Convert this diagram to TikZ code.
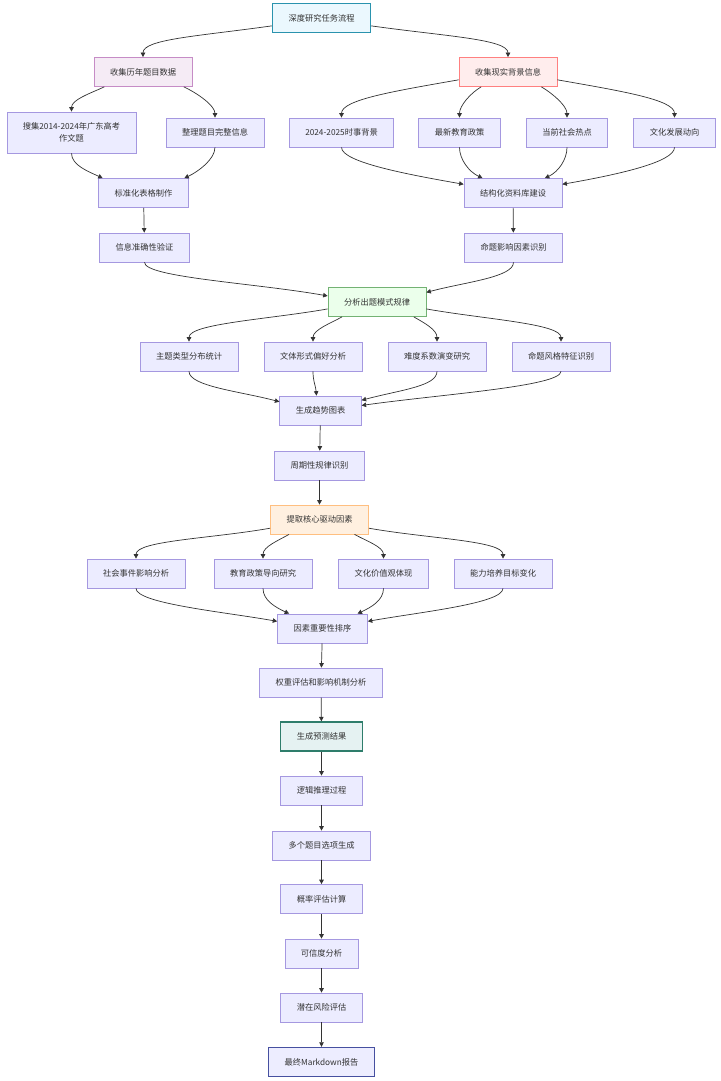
\documentclass[tikz,border=0pt]{standalone}
\usepackage{fontspec}
\newfontfamily\cjk{Noto Sans CJK SC}
\usetikzlibrary{arrows.meta}
\definecolor{boxfill}{HTML}{ECECFF}
\definecolor{boxline}{HTML}{A598E0}
\definecolor{txt}{HTML}{333333}
\definecolor{edgecol}{HTML}{333333}
\definecolor{startline}{HTML}{2A93AE}
\definecolor{reportline}{HTML}{4650A0}
\definecolor{resultline}{HTML}{2E7D6B}
\tikzset{
  stepbox/.style={draw=boxline, fill=boxfill, line width=0.7pt, minimum height=29pt, inner xsep=16pt, inner ysep=0pt, text=txt, font=\cjk\fontsize{8.25}{12}\selectfont, align=center},
  startbox/.style={stepbox, fill=cyan!8, draw=startline, line width=1.4pt},
  histbox/.style={stepbox, fill=violet!8, draw=violet!45},
  realbox/.style={stepbox, fill=red!7, draw=red!50},
  patternbox/.style={stepbox, fill=green!8, draw=green!45!black!55},
  corebox/.style={stepbox, fill=orange!12, draw=orange!50},
  resultbox/.style={stepbox, fill=teal!10, draw=resultline, line width=1.4pt},
  reportbox/.style={stepbox, fill=blue!7, draw=reportline, line width=1.4pt},
  flow/.style={draw=edgecol, line width=0.7pt, -{Triangle[length=4.5pt,width=4.5pt]}},
}
\begin{document}
\begin{tikzpicture}[x=1pt,y=1pt]
\useasboundingbox (0,0) rectangle (720,-1081);
% top
\node [startbox] (root) at (321.5,-18) {深度研究任务流程};
\node [histbox] (hist) at (143,-72) {收集历年题目数据};
\node [realbox] (real) at (508,-72) {收集现实背景信息};
% data collection
\node [stepbox, minimum height=41pt] (past) at (71.5,-132.5) {搜集2014-2024年广东高考\\作文题};
\node [stepbox] (tidy) at (215,-132.5) {整理题目完整信息};
\node [stepbox] (news) at (341.5,-132.5) {2024-2025时事背景};
\node [stepbox] (policy) at (459.5,-132.5) {最新教育政策};
\node [stepbox] (hot) at (567,-132.5) {当前社会热点};
\node [stepbox] (culture) at (674.5,-132.5) {文化发展动向};
\node [stepbox] (table) at (143.5,-193) {标准化表格制作};
\node [stepbox] (base) at (513,-193) {结构化资料库建设};
\node [stepbox] (check) at (144.5,-247.5) {信息准确性验证};
\node [stepbox] (factor) at (513.5,-247.5) {命题影响因素识别};
% patterns
\node [patternbox] (pattern) at (377,-302) {分析出题模式规律};
\node [stepbox] (topic) at (189,-356.5) {主题类型分布统计};
\node [stepbox] (genre) at (313,-356.5) {文体形式偏好分析};
\node [stepbox] (level) at (437,-356.5) {难度系数演变研究};
\node [stepbox] (style) at (561,-356.5) {命题风格特征识别};
\node [stepbox] (trend) at (320.5,-410.5) {生成趋势图表};
\node [stepbox] (cycle) at (319.5,-465.5) {周期性规律识别};
% drivers
\node [corebox] (core) at (319.5,-519.5) {提取核心驱动因素};
\node [stepbox] (event) at (136,-573.5) {社会事件影响分析};
\node [stepbox] (edu) at (263,-573.5) {教育政策导向研究};
\node [stepbox] (value) at (383.5,-573.5) {文化价值观体现};
\node [stepbox] (ability) at (503,-573.5) {能力培养目标变化};
\node [stepbox] (rank) at (322.5,-628.5) {因素重要性排序};
\node [stepbox] (weight) at (321,-682.5) {权重评估和影响机制分析};
% prediction
\node [resultbox] (result) at (321.5,-736.5) {生成预测结果};
\node [stepbox] (logic) at (321.5,-790.5) {逻辑推理过程};
\node [stepbox] (multi) at (321.5,-845.5) {多个题目选项生成};
\node [stepbox] (prob) at (321.5,-899) {概率评估计算};
\node [stepbox] (trust) at (321.5,-953.5) {可信度分析};
\node [stepbox] (risk) at (321.5,-1007.5) {潜在风险评估};
\node [reportbox] (report) at (321.5,-1062) {最终Markdown报告};
% edges
\draw [flow] (root.-171) to[out=188, in=90, out distance=75pt, in distance=18pt] (hist.north);
\draw [flow] (root.-9) to[out=-8, in=90, out distance=75pt, in distance=18pt] (real.north);
\draw [flow] (hist.-159) to[out=-155, in=90, out distance=15pt, in distance=12pt] (past.north);
\draw [flow] (hist.-20) to[out=-25, in=90, out distance=15pt, in distance=12pt] (tidy.north);
\draw [flow] (real.-171) to[out=190, in=90, out distance=65pt, in distance=18pt] (news.north);
\draw [flow] (real.-151) to[out=-150, in=90, out distance=12pt, in distance=12pt] (policy.north);
\draw [flow] (real.-24) to[out=-30, in=90, out distance=12pt, in distance=12pt] (hot.north);
\draw [flow] (real.-9) to[out=-10, in=90, out distance=65pt, in distance=18pt] (culture.north);
\draw [flow] (past.south) to[out=-90, in=155, out distance=12pt, in distance=15pt] (table.160);
\draw [flow] (tidy.south) to[out=-90, in=25, out distance=12pt, in distance=15pt] (table.20);
\draw [flow] (news.south) to[out=-90, in=170, out distance=15pt, in distance=55pt] (base.170);
\draw [flow] (policy.south) to[out=-90, in=155, out distance=12pt, in distance=15pt] (base.154);
\draw [flow] (hot.south) to[out=-90, in=25, out distance=12pt, in distance=15pt] (base.25);
\draw [flow] (culture.south) to[out=-90, in=10, out distance=15pt, in distance=55pt] (base.10);
\draw [flow] (table) -- (check);
\draw [flow] (base) -- (factor);
\draw [flow] (check.south) to[out=-90, in=170, out distance=15pt, in distance=75pt] (pattern.173);
\draw [flow] (factor.south) to[out=-90, in=15, out distance=15pt, in distance=40pt] (pattern.11);
\draw [flow] (pattern.-172) to[out=190, in=90, out distance=60pt, in distance=18pt] (topic.north);
\draw [flow] (pattern.-157) to[out=-150, in=90, out distance=12pt, in distance=12pt] (genre.north);
\draw [flow] (pattern.-22) to[out=-30, in=90, out distance=12pt, in distance=12pt] (level.north);
\draw [flow] (pattern.-8) to[out=-10, in=90, out distance=60pt, in distance=18pt] (style.north);
\draw [flow] (topic.south) to[out=-90, in=165, out distance=15pt, in distance=40pt] (trend.168);
\draw [flow] (genre.south) to[out=-90, in=95, out distance=10pt, in distance=10pt] (trend.105);
\draw [flow] (level.south) to[out=-90, in=15, out distance=15pt, in distance=40pt] (trend.14);
\draw [flow] (style.south) to[out=-90, in=8, out distance=15pt, in distance=80pt] (trend.7);
\draw [flow] (trend) -- (cycle);
\draw [flow] (cycle) -- (core);
\draw [flow] (core.-170) to[out=190, in=90, out distance=60pt, in distance=18pt] (event.north);
\draw [flow] (core.-154) to[out=-150, in=90, out distance=12pt, in distance=12pt] (edu.north);
\draw [flow] (core.-23) to[out=-30, in=90, out distance=12pt, in distance=12pt] (value.north);
\draw [flow] (core.-10) to[out=-10, in=90, out distance=60pt, in distance=18pt] (ability.north);
\draw [flow] (event.south) to[out=-90, in=170, out distance=15pt, in distance=55pt] (rank.171);
\draw [flow] (edu.south) to[out=-90, in=155, out distance=12pt, in distance=15pt] (rank.156);
\draw [flow] (value.south) to[out=-90, in=25, out distance=12pt, in distance=15pt] (rank.23);
\draw [flow] (ability.south) to[out=-90, in=10, out distance=15pt, in distance=55pt] (rank.9);
\draw [flow] (rank) -- (weight);
\draw [flow] (weight) -- (result);
\draw [flow] (result) -- (logic);
\draw [flow] (logic) -- (multi);
\draw [flow] (multi) -- (prob);
\draw [flow] (prob) -- (trust);
\draw [flow] (trust) -- (risk);
\draw [flow] (risk) -- (report);
\end{tikzpicture}
\end{document}
